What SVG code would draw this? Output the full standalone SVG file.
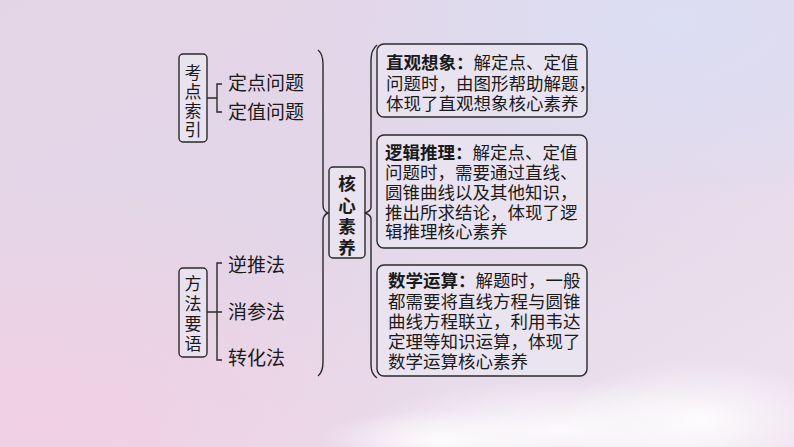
<svg xmlns="http://www.w3.org/2000/svg" width="794" height="447" viewBox="0 0 794 447">
<defs>
<linearGradient id="bg" x1="0" y1="0" x2="1" y2="1">
<stop offset="0" stop-color="#e4d5e6"/>
<stop offset="0.45" stop-color="#e2d6e8"/>
<stop offset="1" stop-color="#ede2ee"/>
</linearGradient>
<radialGradient id="blue" cx="0.85" cy="0.05" r="0.5">
<stop offset="0" stop-color="#dbdff5" stop-opacity="0.9"/>
<stop offset="1" stop-color="#dbdff5" stop-opacity="0"/>
</radialGradient>
<radialGradient id="pink" cx="0.05" cy="0.95" r="0.55">
<stop offset="0" stop-color="#f3cfe2" stop-opacity="0.9"/>
<stop offset="1" stop-color="#f3cfe2" stop-opacity="0"/>
</radialGradient>
<radialGradient id="cloud" cx="0.5" cy="0.5" r="0.5">
<stop offset="0" stop-color="#ffffff" stop-opacity="0.85"/>
<stop offset="1" stop-color="#ffffff" stop-opacity="0"/>
</radialGradient>
<style>
.box{fill:#ebe6f1;fill-opacity:0.75;stroke:#2a2a2a;stroke-width:1.4}
.ln{fill:none;stroke:#2a2a2a;stroke-width:1.4}
.t{font-family:"Noto Sans CJK SC","Noto Sans CJK JP",sans-serif;font-size:17.5px;fill:#1a1a1a}
.s{font-size:17px}
.m{font-size:19px}
.b{font-weight:bold}
.v{text-anchor:middle}
</style>
</defs>
<rect width="794" height="447" fill="url(#bg)"/>
<rect width="794" height="447" fill="url(#blue)"/>
<rect width="794" height="447" fill="url(#pink)"/>
<ellipse cx="560" cy="430" rx="200" ry="50" fill="url(#cloud)"/>
<ellipse cx="700" cy="420" rx="140" ry="60" fill="url(#cloud)"/>
<ellipse cx="440" cy="440" rx="120" ry="30" fill="url(#cloud)"/>

<g id="connectors">
<path class="ln" d="M207,98 H217 M222,84 H217 V112 H222"/>
<path class="ln" d="M207,312 H222 M222,263 H217 V360 H222"/>
<path class="ln" d="M318,50 Q323,54 323,64 L323,205 Q323,211 328,213 Q323,215 323,221 L323,362 Q323,372 318,376"/>
<path class="ln" d="M377,45 Q371,50 371,60 L371,207 Q371,211 365,213 Q371,215 371,219 L371,365 Q371,374 377,378"/>
</g>

<g id="kaodian">
<rect class="box" x="179" y="54" width="28" height="88" rx="4"/>
<text class="t s v"><tspan x="193" y="79">考</tspan><tspan x="193" y="98">点</tspan><tspan x="193" y="117">索</tspan><tspan x="193" y="136">引</tspan></text>
</g>
<g id="dingdian"><text class="t m" x="228" y="90">定点问题</text></g>
<g id="dingzhi"><text class="t m" x="228" y="119">定值问题</text></g>

<g id="fangfa">
<rect class="box" x="179" y="268" width="28" height="89" rx="4"/>
<text class="t s v"><tspan x="193" y="290">方</tspan><tspan x="193" y="310">法</tspan><tspan x="193" y="330">要</tspan><tspan x="193" y="350">语</tspan></text>
</g>
<g id="nitui"><text class="t m" x="228" y="272">逆推法</text></g>
<g id="xiaocan"><text class="t m" x="228" y="319">消参法</text></g>
<g id="zhuanhua"><text class="t m" x="228" y="365">转化法</text></g>

<g id="hexin">
<rect class="box" x="329" y="167" width="36" height="91" rx="4"/>
<text class="t v b"><tspan x="347" y="190">核</tspan><tspan x="347" y="212">心</tspan><tspan x="347" y="233">素</tspan><tspan x="347" y="254">养</tspan></text>
</g>

<g id="zhiguan">
<rect class="box" x="377" y="44" width="210" height="73" rx="7"/>
<text class="t"><tspan x="386" y="69" class="b">直观想象：</tspan><tspan>解定点、定值</tspan><tspan x="386" y="90">问题时，由图形帮助解题，</tspan><tspan x="386" y="110">体现了直观想象核心素养</tspan></text>
</g>

<g id="luoji">
<rect class="box" x="377" y="135" width="210" height="113" rx="7"/>
<text class="t"><tspan x="385" y="159" class="b">逻辑推理：</tspan><tspan>解定点、定值</tspan><tspan x="385" y="179">问题时，需要通过直线、</tspan><tspan x="385" y="199">圆锥曲线以及其他知识，</tspan><tspan x="385" y="219">推出所求结论，体现了逻</tspan><tspan x="385" y="238">辑推理核心素养</tspan></text>
</g>

<g id="shuxue">
<rect class="box" x="377" y="265" width="210" height="111" rx="7"/>
<text class="t"><tspan x="388" y="287" class="b">数学运算：</tspan><tspan>解题时，一般</tspan><tspan x="388" y="308">都需要将直线方程与圆锥</tspan><tspan x="388" y="328">曲线方程联立，利用韦达</tspan><tspan x="388" y="348">定理等知识运算，体现了</tspan><tspan x="388" y="368">数学运算核心素养</tspan></text>
</g>
</svg>
